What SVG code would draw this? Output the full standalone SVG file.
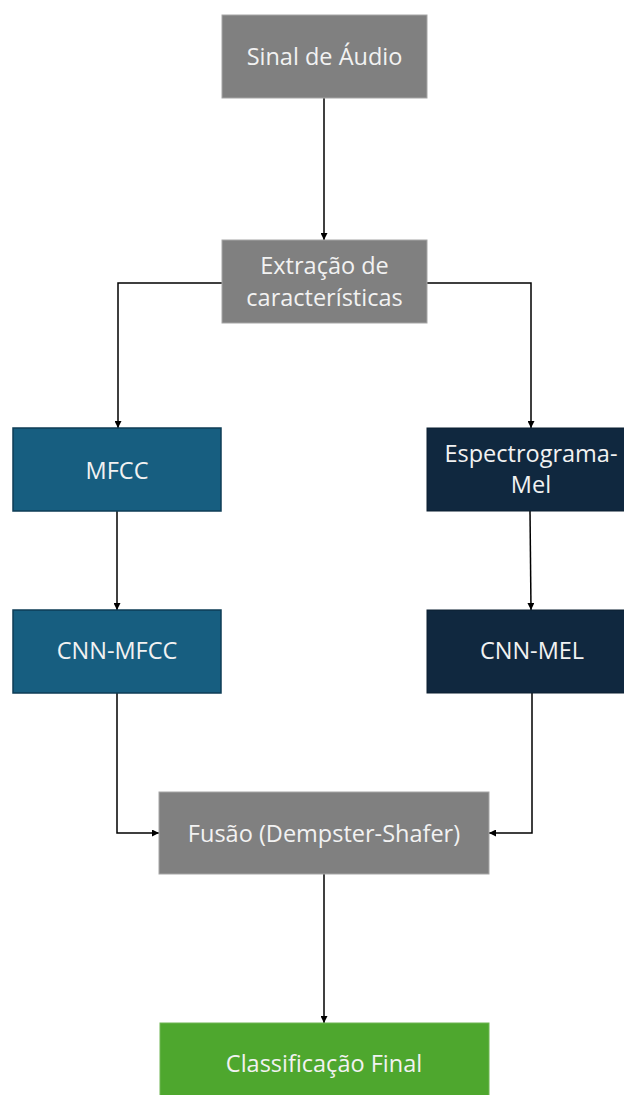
<svg xmlns="http://www.w3.org/2000/svg" width="624" height="1095" viewBox="0 0 624 1095">
<style>
.t{font-family:"Open Sans","Noto Sans",sans-serif;font-size:23.5px;fill:#F2F2F2;text-anchor:middle}
.g{fill:#808080;stroke:#A6A6A6;stroke-width:1}
.b{fill:#175E80;stroke:#0E3D56;stroke-width:1.5}
.d{fill:#10283F;stroke:#0B1E30;stroke-width:1}
.gr{fill:#4EA72E;stroke:#6FB552;stroke-width:1}
.c{fill:none;stroke:#000;stroke-width:1.5;marker-end:url(#ah)}
</style>
<defs>
<marker id="ah" viewBox="0 0 10 10" refX="10" refY="5" markerWidth="7" markerHeight="7" orient="auto" markerUnits="userSpaceOnUse">
<path d="M0,0 L10,5 L0,10 z" fill="#000"/>
</marker>
</defs>
<rect width="624" height="1095" fill="#fff"/>
<g id="connectors">
<path class="c" d="M324,98 V240"/>
<path class="c" d="M222,283 H118 V428"/>
<path class="c" d="M427,283 H531 V428"/>
<path class="c" d="M117,511 V610"/>
<path class="c" d="M530,511 L531,610"/>
<path class="c" d="M117,693 V833 H159"/>
<path class="c" d="M532,693 V833 H489"/>
<path class="c" d="M324,874 V1023"/>
</g>
<g id="sinal"><rect class="g" x="222" y="15" width="205" height="83"/><text class="t" x="324.5" y="65">Sinal de Áudio</text></g>
<g id="extracao"><rect class="g" x="222" y="240" width="205" height="83"/><text class="t" x="324.5" y="274">Extração de</text><text class="t" x="324.5" y="306">características</text></g>
<g id="mfcc"><rect class="b" x="13" y="428" width="208" height="83"/><text class="t" x="117" y="479">MFCC</text></g>
<g id="espectrograma"><rect class="d" x="427" y="428" width="200" height="83"/><text class="t" x="531" y="462">Espectrograma-</text><text class="t" x="531" y="493">Mel</text></g>
<g id="cnn-mfcc"><rect class="b" x="13" y="610" width="208" height="83"/><text class="t" x="117" y="659">CNN-MFCC</text></g>
<g id="cnn-mel"><rect class="d" x="427" y="610" width="200" height="83"/><text class="t" x="532" y="659">CNN-MEL</text></g>
<g id="fusao"><rect class="g" x="159" y="792" width="330" height="82"/><text class="t" x="324" y="842">Fusão (Dempster-Shafer)</text></g>
<g id="final"><rect class="gr" x="160" y="1023" width="329" height="75"/><text class="t" x="324" y="1072">Classificação Final</text></g>
</svg>
